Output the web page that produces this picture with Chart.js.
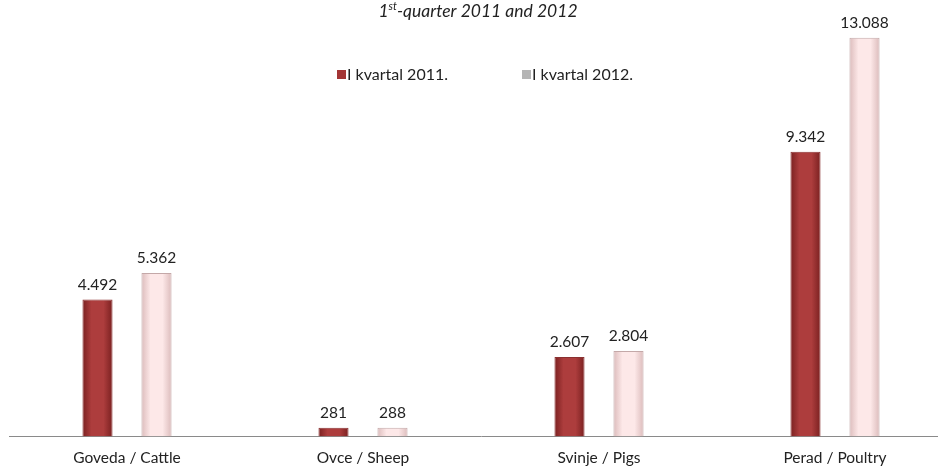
<!DOCTYPE html>
<html>
<head>
<meta charset="utf-8">
<script src="https://cdn.jsdelivr.net/npm/chart.js@4/dist/chart.umd.min.js"></script>
<style>
  html, body { margin: 0; padding: 0; background: #fff; overflow: hidden; }
  #wrap { width: 960px; height: 468px; position: relative; }
</style>
</head>
<body>
<div id="wrap"><canvas id="chart"></canvas></div>
<script>
const categories = ['Goveda / Cattle', 'Ovce / Sheep', 'Svinje / Pigs', 'Perad / Poultry'];
const seriesNames = ['I kvartal 2011.', 'I kvartal 2012.'];
const values2011 = [4492, 281, 2607, 9342];
const values2012 = [5362, 288, 2804, 13088];

const FONT = 'Lato, "Open Sans", sans-serif';

// horizontal gradient across each bar, computed from the x scale
function barFill(edge, mid, side) {
  return function (ctx) {
    const chart = ctx.chart;
    const xs = chart.scales.x;
    if (!xs || !xs.width || ctx.dataIndex === undefined) return mid;
    const catW = xs.width / chart.data.labels.length;
    const center = xs.getPixelForValue(ctx.dataIndex) + side * catW * 0.125;
    const half = catW * 0.25 * 0.51 / 2;
    const g = chart.ctx.createLinearGradient(center - half, 0, center + half, 0);
    g.addColorStop(0, edge);
    g.addColorStop(0.3, mid);
    g.addColorStop(0.7, mid);
    g.addColorStop(1, edge);
    return g;
  };
}

function fmt(v) {
  return String(v).replace(/\B(?=(\d{3})+(?!\d))/g, '.');
}

const decor = {
  id: 'decor',
  afterDatasetsDraw(chart) {
    const c = chart.ctx;
    c.save();
    // value labels
    c.font = '15.5px ' + FONT;
    c.fillStyle = '#222';
    c.textAlign = 'center';
    c.textBaseline = 'bottom';
    chart.data.datasets.forEach((ds, i) => {
      chart.getDatasetMeta(i).data.forEach((bar, j) => {
        c.fillText(fmt(ds.data[j]), bar.x, bar.y - 7);
      });
    });

    // title with superscript
    c.textBaseline = 'alphabetic';
    c.textAlign = 'left';
    const big = 'italic 17.5px ' + FONT, small = 'italic 11px ' + FONT;
    c.font = big; const w1 = c.measureText('1').width;
    const rest = '-quarter 2011 and 2012';
    const w3 = c.measureText(rest).width;
    c.font = small; const w2 = c.measureText('st').width;
    let x = 478 - (w1 + w2 + w3) / 2;
    const base = 17;
    c.font = big; c.fillText('1', x, base); x += w1;
    c.font = small; c.fillText('st', x, base - 7); x += w2;
    c.font = big; c.fillText(rest, x, base);

    // legend
    const legendX = [337, 522];
    c.font = '16px ' + FONT;
    c.textBaseline = 'middle';
    chart.data.datasets.forEach((ds, i) => {
      const lx = legendX[i];
      c.fillStyle = ds.legendColor;
      c.fillRect(lx, 70, 9, 9);
      c.fillStyle = '#222';
      c.fillText(ds.label, lx + 10, 75);
    });
    c.restore();
  }
};

new Chart(document.getElementById('chart'), {
  type: 'bar',
  data: {
    labels: categories,
    datasets: [
      {
        label: seriesNames[0],
        data: values2011,
        backgroundColor: barFill('#7a2020', '#ad3d3d', -1),
        borderColor: '#8a3030',
        borderWidth: 1,
        legendColor: '#a33535',
        categoryPercentage: 0.5,
        barPercentage: 0.51
      },
      {
        label: seriesNames[1],
        data: values2012,
        backgroundColor: barFill('#dcbcbc', '#fde8e8', 1),
        borderColor: '#c4a8a8',
        borderWidth: 1,
        legendColor: '#b5b5b5',
        categoryPercentage: 0.5,
        barPercentage: 0.51
      }
    ]
  },
  options: {
    responsive: true, maintainAspectRatio: false,
    animation: false,
    layout: { padding: { left: 9, right: 7, top: 10, bottom: -11 } },
    plugins: { legend: { display: false }, tooltip: { enabled: false } },
    scales: {
      x: {
        grid: { display: false, drawTicks: false },
        border: { display: true, color: '#8a8a8a', width: 1 },
        ticks: { color: '#222', font: { family: FONT, size: 15.5 }, padding: 12 }
      },
      y: {
        display: false,
        min: 0,
        max: 14000
      }
    }
  },
  plugins: [decor]
});
</script>
</body>
</html>
